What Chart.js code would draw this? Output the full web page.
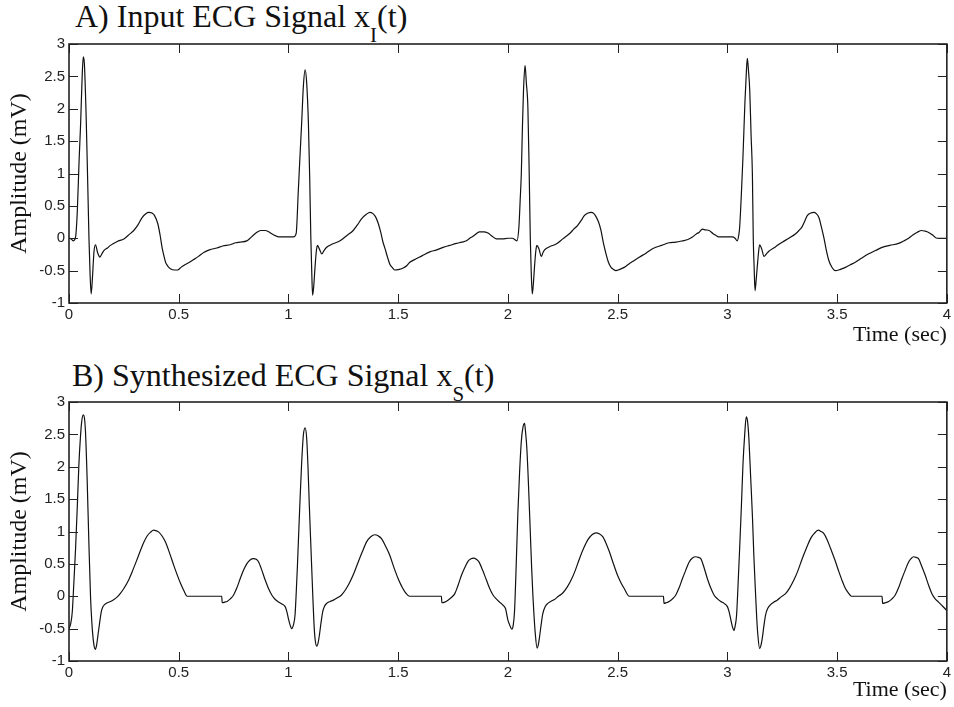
<!DOCTYPE html>
<html>
<head>
<meta charset="utf-8">
<script src="https://cdn.jsdelivr.net/npm/chart.js@4.4.1/dist/chart.umd.min.js"></script>
<style>
  body { margin: 0; background: #fff; }
  #wrap { position: relative; width: 954px; height: 707px; overflow: hidden; background: #fff; }
  canvas { position: absolute; left: 0; }
  .ttl { position: absolute; font-family: "Liberation Serif", serif; font-size: 32px; line-height: 32px; color: #111; white-space: nowrap; }
  .ttl span { font-size: 21px; position: relative; top: 15px; }
</style>
</head>
<body>
<div id="wrap">
  <div class="ttl" style="left:75px;top:0px">A) Input ECG Signal x<span>I</span>(t)</div>
  <div class="ttl" style="left:72px;top:359px">B) Synthesized ECG Signal x<span>S</span>(t)</div>
  <canvas id="ecgA" width="954" height="350" style="top:0"></canvas>
  <canvas id="ecgB" width="954" height="349" style="top:358px"></canvas>
</div>
<script>
'use strict';

// tick values
const xTicks = [0, 0.5, 1, 1.5, 2, 2.5, 3, 3.5, 4];
const yTicks = [-1, -0.5, 0, 0.5, 1, 1.5, 2, 2.5, 3];

// A) input ECG
const timeA = [
  0.000, 0.010, 0.020, 0.030, 0.038, 0.046, 0.053, 0.060, 0.065, 0.070, 0.078, 0.085, 0.091, 0.096, 0.101, 0.107,
  0.114, 0.121, 0.130, 0.141, 0.150, 0.159, 0.175, 0.189, 0.220, 0.250, 0.275, 0.295, 0.315, 0.333, 0.350, 0.364,
  0.378, 0.390, 0.405, 0.415, 0.424, 0.433, 0.440, 0.450, 0.462, 0.480, 0.495, 0.510, 0.523, 0.545, 0.568, 0.590,
  0.614, 0.640, 0.674, 0.700, 0.735, 0.760, 0.780, 0.810, 0.825, 0.841, 0.860, 0.875, 0.894, 0.910, 0.924, 0.940,
  0.955, 0.990, 1.023, 1.035, 1.045, 1.053, 1.060, 1.068, 1.076, 1.083, 1.091, 1.097, 1.102, 1.106, 1.110, 1.115,
  1.121, 1.127, 1.132, 1.140, 1.152, 1.162, 1.174, 1.200, 1.235, 1.265, 1.295, 1.315, 1.333, 1.355, 1.371, 1.385,
  1.397, 1.410, 1.420, 1.430, 1.440, 1.452, 1.462, 1.475, 1.485, 1.505, 1.523, 1.540, 1.553, 1.575, 1.598, 1.620,
  1.644, 1.675, 1.705, 1.735, 1.765, 1.790, 1.811, 1.826, 1.841, 1.856, 1.871, 1.890, 1.909, 1.925, 1.947, 1.975,
  2.000, 2.020, 2.041, 2.050, 2.056, 2.061, 2.066, 2.071, 2.078, 2.084, 2.091, 2.097, 2.102, 2.106, 2.111, 2.116,
  2.121, 2.127, 2.132, 2.141, 2.152, 2.160, 2.167, 2.190, 2.220, 2.250, 2.280, 2.300, 2.318, 2.335, 2.348, 2.365,
  2.379, 2.392, 2.402, 2.413, 2.424, 2.435, 2.447, 2.458, 2.470, 2.480, 2.492, 2.510, 2.530, 2.550, 2.568, 2.600,
  2.629, 2.650, 2.674, 2.700, 2.735, 2.765, 2.795, 2.820, 2.841, 2.860, 2.871, 2.886, 2.900, 2.917, 2.935, 2.950,
  2.962, 3.000, 3.023, 3.035, 3.045, 3.052, 3.056, 3.064, 3.071, 3.080, 3.087, 3.091, 3.096, 3.102, 3.108, 3.114,
  3.118, 3.122, 3.126, 3.131, 3.136, 3.142, 3.147, 3.156, 3.167, 3.178, 3.189, 3.220, 3.250, 3.280, 3.311, 3.326,
  3.341, 3.352, 3.364, 3.380, 3.394, 3.405, 3.417, 3.428, 3.439, 3.450, 3.462, 3.475, 3.492, 3.515, 3.538, 3.560,
  3.583, 3.610, 3.644, 3.675, 3.705, 3.740, 3.780, 3.805, 3.826, 3.845, 3.864, 3.886, 3.900, 3.917, 3.935, 3.955,
  3.980, 4.000
];
const ampA = [
  0.00, -0.01, -0.04, 0.02, 0.43, 1.20, 1.77, 2.50, 2.80, 2.70, 1.90, 0.90, 0.00, -0.55, -0.86, -0.60,
  -0.20, -0.10, -0.22, -0.29, -0.24, -0.19, -0.15, -0.11, -0.05, -0.01, 0.06, 0.12, 0.21, 0.32, 0.38, 0.40,
  0.39, 0.35, 0.22, 0.05, -0.14, -0.28, -0.37, -0.43, -0.47, -0.49, -0.49, -0.45, -0.42, -0.38, -0.33, -0.28,
  -0.22, -0.18, -0.15, -0.12, -0.10, -0.07, -0.06, -0.04, 0.00, 0.05, 0.10, 0.12, 0.12, 0.10, 0.07, 0.04,
  0.02, 0.02, 0.02, 0.07, 0.74, 1.30, 1.77, 2.35, 2.60, 2.40, 1.77, 0.90, 0.00, -0.50, -0.88, -0.75,
  -0.45, -0.20, -0.11, -0.16, -0.24, -0.19, -0.14, -0.09, -0.04, 0.04, 0.12, 0.21, 0.30, 0.37, 0.40, 0.38,
  0.33, 0.22, 0.10, -0.05, -0.16, -0.30, -0.40, -0.46, -0.49, -0.48, -0.46, -0.42, -0.37, -0.33, -0.29, -0.25,
  -0.21, -0.18, -0.14, -0.11, -0.08, -0.06, -0.04, 0.00, 0.03, 0.07, 0.10, 0.10, 0.08, 0.04, -0.01, -0.01,
  0.00, 0.00, -0.04, 0.17, 0.60, 0.99, 1.70, 2.28, 2.67, 2.40, 2.02, 1.00, 0.00, -0.50, -0.86, -0.70,
  -0.45, -0.20, -0.11, -0.16, -0.28, -0.22, -0.18, -0.13, -0.09, -0.01, 0.07, 0.14, 0.20, 0.28, 0.35, 0.39,
  0.40, 0.38, 0.33, 0.25, 0.12, -0.07, -0.24, -0.37, -0.45, -0.48, -0.50, -0.48, -0.45, -0.40, -0.36, -0.29,
  -0.23, -0.18, -0.14, -0.11, -0.07, -0.06, -0.04, -0.02, 0.02, 0.07, 0.09, 0.14, 0.13, 0.12, 0.07, 0.04,
  0.02, 0.02, 0.02, 0.00, -0.04, 0.05, 0.17, 0.70, 1.25, 2.10, 2.60, 2.78, 2.60, 2.28, 1.60, 0.99,
  0.00, -0.45, -0.81, -0.65, -0.45, -0.22, -0.10, -0.16, -0.28, -0.24, -0.20, -0.13, -0.06, 0.00, 0.07, 0.12,
  0.18, 0.26, 0.35, 0.39, 0.40, 0.38, 0.32, 0.18, 0.02, -0.17, -0.34, -0.44, -0.50, -0.48, -0.45, -0.41,
  -0.37, -0.31, -0.24, -0.19, -0.14, -0.11, -0.08, -0.04, 0.00, 0.05, 0.09, 0.12, 0.11, 0.09, 0.05, 0.00,
  0.00, 0.00
];

// B) synthesized ECG
const timeB = [
  0.000, 0.008, 0.015, 0.022, 0.030, 0.038, 0.045, 0.052, 0.058, 0.065, 0.070, 0.075, 0.080, 0.083, 0.090, 0.098,
  0.104, 0.109, 0.115, 0.120, 0.126, 0.132, 0.140, 0.147, 0.155, 0.162, 0.175, 0.189, 0.205, 0.220, 0.235, 0.250,
  0.270, 0.288, 0.308, 0.326, 0.342, 0.356, 0.372, 0.386, 0.398, 0.409, 0.424, 0.439, 0.458, 0.477, 0.493, 0.508,
  0.523, 0.538, 0.600, 0.696, 0.698, 0.710, 0.720, 0.735, 0.750, 0.765, 0.780, 0.795, 0.810, 0.825, 0.841, 0.853,
  0.864, 0.879, 0.894, 0.909, 0.924, 0.940, 0.955, 0.970, 0.985, 0.993, 1.000, 1.008, 1.015, 1.022, 1.030, 1.036,
  1.041, 1.047, 1.053, 1.060, 1.068, 1.076, 1.083, 1.089, 1.095, 1.103, 1.111, 1.116, 1.121, 1.129, 1.135, 1.141,
  1.148, 1.156, 1.165, 1.174, 1.190, 1.205, 1.225, 1.242, 1.260, 1.280, 1.300, 1.318, 1.337, 1.356, 1.375, 1.394,
  1.410, 1.424, 1.443, 1.462, 1.480, 1.500, 1.515, 1.530, 1.553, 1.620, 1.697, 1.699, 1.712, 1.727, 1.742, 1.758,
  1.773, 1.788, 1.803, 1.818, 1.832, 1.844, 1.856, 1.868, 1.885, 1.902, 1.917, 1.932, 1.947, 1.962, 1.975, 1.989,
  2.000, 2.010, 2.018, 2.024, 2.030, 2.037, 2.045, 2.053, 2.061, 2.068, 2.076, 2.080, 2.086, 2.094, 2.102, 2.108,
  2.114, 2.119, 2.124, 2.133, 2.138, 2.144, 2.151, 2.159, 2.170, 2.182, 2.195, 2.212, 2.230, 2.250, 2.270, 2.288,
  2.307, 2.326, 2.345, 2.364, 2.383, 2.402, 2.418, 2.432, 2.447, 2.462, 2.480, 2.500, 2.515, 2.530, 2.553, 2.630,
  2.709, 2.711, 2.722, 2.735, 2.750, 2.765, 2.780, 2.795, 2.810, 2.826, 2.841, 2.856, 2.868, 2.879, 2.894, 2.909,
  2.924, 2.939, 2.955, 2.970, 2.985, 3.000, 3.008, 3.015, 3.023, 3.030, 3.036, 3.042, 3.049, 3.056, 3.064, 3.071,
  3.079, 3.086, 3.092, 3.098, 3.106, 3.114, 3.121, 3.129, 3.134, 3.139, 3.147, 3.153, 3.159, 3.166, 3.174, 3.185,
  3.197, 3.212, 3.227, 3.245, 3.265, 3.284, 3.303, 3.322, 3.341, 3.360, 3.379, 3.396, 3.414, 3.427, 3.439, 3.455,
  3.470, 3.490, 3.508, 3.523, 3.538, 3.552, 3.565, 3.640, 3.705, 3.707, 3.720, 3.735, 3.750, 3.765, 3.780, 3.795,
  3.810, 3.826, 3.837, 3.848, 3.860, 3.871, 3.886, 3.902, 3.917, 3.932, 3.947, 3.962, 3.980, 4.000
];
const ampB = [
  -0.50, -0.42, -0.24, 0.20, 0.74, 1.40, 2.03, 2.45, 2.70, 2.80, 2.76, 2.55, 2.10, 1.77, 0.90, 0.00,
  -0.40, -0.62, -0.78, -0.82, -0.75, -0.60, -0.40, -0.24, -0.16, -0.13, -0.10, -0.08, -0.05, -0.01, 0.05, 0.12,
  0.24, 0.38, 0.55, 0.71, 0.84, 0.93, 0.99, 1.02, 1.01, 0.99, 0.93, 0.84, 0.67, 0.48, 0.33, 0.20,
  0.09, 0.00, 0.00, 0.00, -0.10, -0.09, -0.08, -0.04, 0.02, 0.13, 0.27, 0.40, 0.50, 0.56, 0.58, 0.57,
  0.53, 0.40, 0.25, 0.12, 0.02, -0.05, -0.09, -0.12, -0.16, -0.24, -0.35, -0.45, -0.50, -0.45, -0.29, 0.10,
  0.48, 1.00, 1.51, 2.05, 2.49, 2.60, 2.44, 2.00, 1.41, 0.70, 0.00, -0.40, -0.65, -0.77, -0.72, -0.60,
  -0.42, -0.24, -0.15, -0.11, -0.08, -0.06, -0.02, 0.02, 0.10, 0.22, 0.37, 0.53, 0.69, 0.84, 0.92, 0.95,
  0.93, 0.89, 0.77, 0.63, 0.45, 0.27, 0.16, 0.07, 0.00, 0.00, 0.00, -0.10, -0.09, -0.06, -0.02, 0.04,
  0.17, 0.32, 0.44, 0.54, 0.58, 0.59, 0.57, 0.53, 0.40, 0.25, 0.12, 0.02, -0.04, -0.09, -0.13, -0.19,
  -0.37, -0.46, -0.51, -0.45, -0.24, 0.40, 1.25, 1.90, 2.39, 2.60, 2.67, 2.55, 2.30, 1.70, 0.99, 0.45,
  0.00, -0.30, -0.55, -0.80, -0.76, -0.63, -0.45, -0.27, -0.16, -0.11, -0.08, -0.05, 0.00, 0.05, 0.14, 0.25,
  0.40, 0.58, 0.74, 0.87, 0.95, 0.98, 0.96, 0.92, 0.82, 0.69, 0.51, 0.32, 0.21, 0.12, 0.00, 0.00,
  0.00, -0.11, -0.10, -0.08, -0.04, 0.02, 0.13, 0.27, 0.40, 0.53, 0.59, 0.61, 0.60, 0.58, 0.44, 0.27,
  0.13, 0.02, -0.04, -0.08, -0.11, -0.16, -0.24, -0.35, -0.47, -0.53, -0.45, -0.29, 0.20, 0.74, 1.40, 2.03,
  2.50, 2.77, 2.70, 2.44, 1.85, 1.25, 0.60, 0.00, -0.35, -0.60, -0.81, -0.76, -0.65, -0.47, -0.29, -0.18,
  -0.13, -0.09, -0.06, -0.01, 0.04, 0.13, 0.25, 0.40, 0.58, 0.74, 0.89, 0.97, 1.02, 1.00, 0.97, 0.87,
  0.74, 0.56, 0.38, 0.24, 0.12, 0.05, 0.00, 0.00, 0.00, -0.11, -0.10, -0.08, -0.04, 0.02, 0.13, 0.27,
  0.40, 0.53, 0.58, 0.61, 0.60, 0.58, 0.46, 0.32, 0.17, 0.04, -0.04, -0.09, -0.15, -0.22
];

const axisColor = '#222';
const traceColor = '#111';

// box round the plot with inward ticks on all four sides
const boxTicks = {
  id: 'boxTicks',
  afterDatasetsDraw(chart) {
    const { ctx, chartArea: a, scales } = chart;
    const len = 9;
    ctx.save();
    ctx.strokeStyle = axisColor;
    ctx.lineWidth = 1;
    ctx.beginPath();
    xTicks.forEach(function (v) {
      const px = Math.round(scales.x.getPixelForValue(v)) + 0.5;
      ctx.moveTo(px, a.bottom); ctx.lineTo(px, a.bottom - len);
      ctx.moveTo(px, a.top); ctx.lineTo(px, a.top + len);
    });
    yTicks.forEach(function (v) {
      const py = Math.round(scales.y.getPixelForValue(v)) + 0.5;
      ctx.moveTo(a.left, py); ctx.lineTo(a.left + len, py);
      ctx.moveTo(a.right, py); ctx.lineTo(a.right - len, py);
    });
    ctx.stroke();
    ctx.lineWidth = 1.6;
    ctx.strokeRect(a.left, a.top, a.right - a.left, a.bottom - a.top);
    ctx.restore();
  }
};

function makeChart(id, times, amps, xAxisHeight, timePad) {
  const pts = times.map(function (t, i) { return { x: t, y: amps[i] }; });
  return new Chart(document.getElementById(id), {
    type: 'line',
    data: {
      datasets: [{
        data: pts,
        borderColor: traceColor,
        borderWidth: 1.2,
        pointRadius: 0,
        cubicInterpolationMode: 'monotone',
        fill: false
      }]
    },
    options: {
      responsive: false,
      animation: false,
      events: [],
      parsing: false,
      layout: { padding: { top: 44, right: 5, bottom: 0, left: 0 } },
      plugins: { legend: { display: false }, tooltip: { enabled: false } },
      scales: {
        x: {
          type: 'linear',
          min: 0,
          max: 4,
          afterBuildTicks: function (s) { s.ticks = xTicks.map(function (v) { return { value: v }; }); },
          afterFit: function (s) { s.height = xAxisHeight; },
          grid: { display: false, drawTicks: false },
          border: { display: false },
          ticks: {
            padding: 3,
            maxRotation: 0,
            autoSkip: false,
            color: axisColor,
            font: { family: 'Liberation Sans', size: 15 },
            callback: function (v) { return String(v); }
          },
          title: {
            display: true,
            text: 'Time (sec)',
            align: 'end',
            color: '#111',
            font: { family: 'Liberation Serif', size: 22 },
            padding: { top: 0, bottom: timePad }
          }
        },
        y: {
          type: 'linear',
          min: -1,
          max: 3,
          afterBuildTicks: function (s) { s.ticks = yTicks.map(function (v) { return { value: v }; }); },
          afterFit: function (s) { s.width = 69; },
          grid: { display: false, drawTicks: false },
          border: { display: false },
          ticks: {
            padding: 4,
            autoSkip: false,
            color: axisColor,
            font: { family: 'Liberation Sans', size: 15 },
            callback: function (v) { return String(v); }
          },
          title: {
            display: true,
            text: 'Amplitude (mV)',
            color: '#111',
            font: { family: 'Liberation Serif', size: 24 },
            padding: { top: 5, bottom: 0 }
          }
        }
      }
    },
    plugins: [boxTicks]
  });
}

makeChart('ecgA', timeA, ampA, 47, 2);
makeChart('ecgB', timeB, ampB, 46, 4);
</script>
</body>
</html>
